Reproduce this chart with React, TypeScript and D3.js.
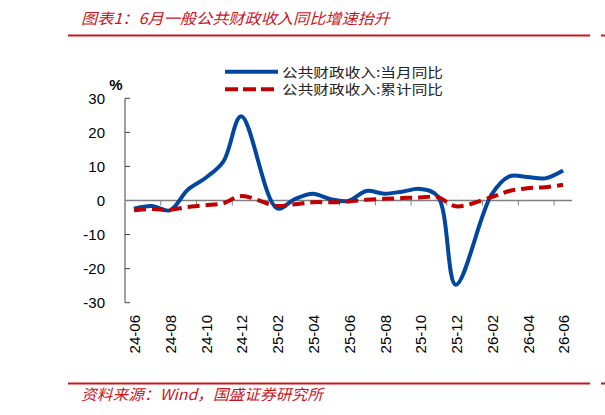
import React from 'react';
import * as d3 from 'd3';

const months = [
  '24-06','24-07','24-08','24-09','24-10','24-11','24-12',
  '25-01','25-02','25-03','25-04','25-05','25-06','25-07','25-08','25-09','25-10','25-11','25-12',
  '26-01','26-02','26-03','26-04','26-05','26-06',
];
const monthlyYoY: (number | null)[] = [
  -2.4, -1.6, -2.9, 3.1, 6.6, 11.4, 24.7,
  null, -2.3, 0.4, 2.0, 0.4, -0.1, 2.8, 2.0, 2.6, 3.4, 1.2, -24.7,
  null, 1.7, 7.1, 6.9, 6.5, 8.8,
];
const cumulativeYoY: (number | null)[] = [
  -2.9, -2.5, -2.7, -1.9, -1.4, -0.8, 1.3,
  null, -1.6, -1.1, -0.5, -0.5, -0.3, 0.2, 0.5, 0.7, 0.9, 1.0, -1.7,
  null, 1.0, 2.8, 3.6, 3.9, 4.6,
];
const yTicks = [-30, -20, -10, 0, 10, 20, 30];
const tickLabels = months.filter((_, i) => i % 2 === 0);
const seriesNames = ['公共财政收入:当月同比', '公共财政收入:累计同比'];
const title = '图表1：6月一般公共财政收入同比增速抬升';
const source = '资料来源：Wind，国盛证券研究所';

const RED = '#c8161e';
const BLUE = '#00479d';
const DRED = '#c00000';

export default function App() {
  const x = d3.scaleBand<string>().domain(months).range([125, 572]).paddingInner(0).paddingOuter(0);
  const y = d3.scaleLinear().domain([-30, 30]).range([302.7, 98.3]);
  const cx = (m: string) => (x(m) as number) + x.bandwidth() / 2;

  const mkPath = (vals: (number | null)[]) => {
    const pts = months
      .map((m, i) => [m, vals[i]] as [string, number | null])
      .filter((d) => d[1] !== null) as [string, number][];
    return d3
      .line<[string, number]>()
      .x((d) => cx(d[0]))
      .y((d) => y(d[1]))
      .curve(d3.curveCatmullRom.alpha(0.5))(pts) as string;
  };

  const font = "'Liberation Sans', Arial, sans-serif";
  const cjk = "'Noto Sans CJK SC', sans-serif";
  const step = x.step();
  const xTickPos = d3.range(1, 13).map((k) => 125 + 2 * k * step);

  return (
    <svg width={605} height={415} style={{ position: 'absolute', left: 0, top: 0, background: '#fff' }}>
      <rect width={605} height={415} fill="#fff" />
      {/* title */}
      <text x={81} y={24} fontFamily={cjk} fontStyle="italic" fontSize={15} fill={RED}
        textLength={309} lengthAdjust="spacingAndGlyphs">{title}</text>
      <line x1={68} x2={590} y1={35.5} y2={35.5} stroke={RED} strokeWidth={2} />
      <line x1={601} x2={605} y1={35.5} y2={35.5} stroke={RED} strokeWidth={2} />

      {/* legend */}
      <line x1={225} x2={278} y1={71.7} y2={71.7} stroke={BLUE} strokeWidth={4} />
      <text x={282} y={72} dy="0.35em" fontFamily={cjk} fontSize={13} fill="#222"
        textLength={161} lengthAdjust="spacingAndGlyphs">{seriesNames[0]}</text>
      <line x1={225} x2={275} y1={89.3} y2={89.3} stroke={DRED} strokeWidth={4} strokeDasharray="13 5" />
      <text x={282} y={89.5} dy="0.35em" fontFamily={cjk} fontSize={13} fill="#222"
        textLength={161} lengthAdjust="spacingAndGlyphs">{seriesNames[1]}</text>

      {/* y axis */}
      <text x={116} y={85} dy="0.35em" textAnchor="middle" fontFamily={font} fontWeight="bold" fontSize={15} fill="#000">%</text>
      <line x1={125} x2={125} y1={y(30)} y2={y(-30)} stroke="#404040" strokeWidth={1} />
      {yTicks.map((t) => (
        <g key={t}>
          <line x1={125} x2={130} y1={y(t)} y2={y(t)} stroke="#404040" strokeWidth={1} />
          <text x={105} y={y(t)} dy="0.35em" textAnchor="end" fontFamily={font} fontSize={15} fill="#000">{t}</text>
        </g>
      ))}

      {/* zero line with ticks */}
      <line x1={125} x2={572} y1={y(0)} y2={y(0)} stroke="#7f7f7f" strokeWidth={1.5} />
      {xTickPos.map((p, i) => (
        <line key={i} x1={p} x2={p} y1={y(0)} y2={y(0) + 5} stroke="#7f7f7f" strokeWidth={1} />
      ))}

      {/* x labels */}
      {tickLabels.map((m) => (
        <text key={m} transform={`translate(${cx(m) + 1},315) rotate(-90)`} dy="0.35em" textAnchor="end"
          fontFamily={font} fontSize={15} fill="#000">{m}</text>
      ))}

      {/* series */}
      <path d={mkPath(monthlyYoY)} fill="none" stroke={BLUE} strokeWidth={4} strokeLinejoin="round" />
      <path d={mkPath(cumulativeYoY)} fill="none" stroke={DRED} strokeWidth={4} strokeDasharray="12 6" />

      {/* footer */}
      <line x1={68} x2={590} y1={383.5} y2={383.5} stroke={RED} strokeWidth={2} />
      <line x1={601} x2={605} y1={383.5} y2={383.5} stroke={RED} strokeWidth={2} />
      <text x={81} y={400} fontFamily={cjk} fontStyle="italic" fontSize={15} fill={RED}
        textLength={242} lengthAdjust="spacingAndGlyphs">{source}</text>
    </svg>
  );
}
